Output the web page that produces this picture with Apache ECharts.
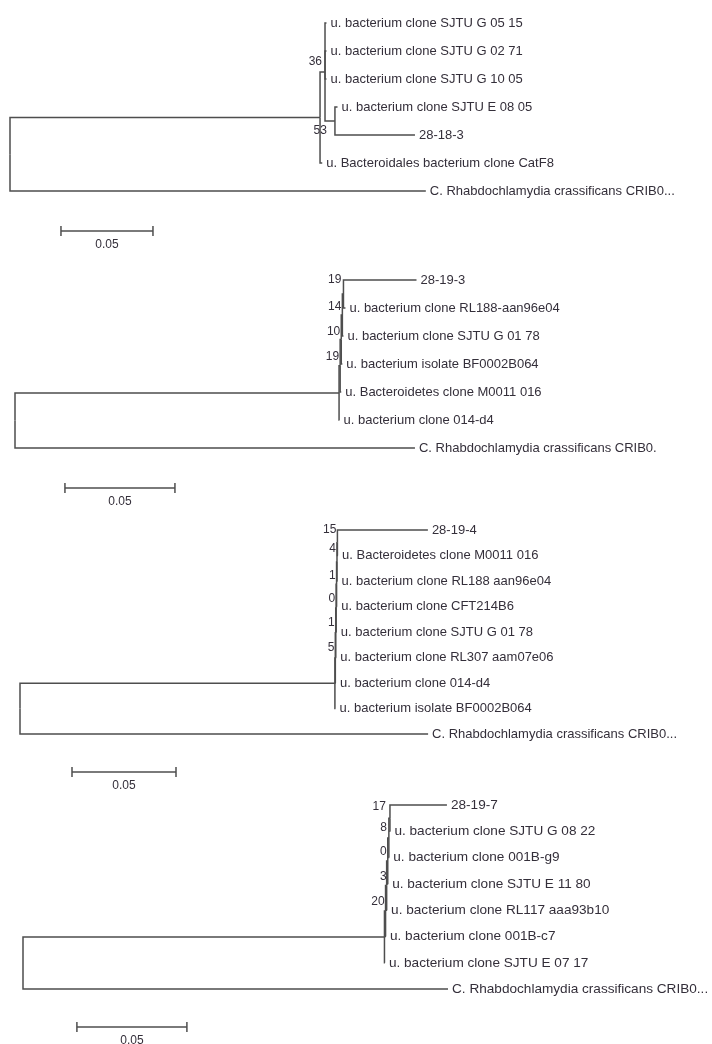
<!DOCTYPE html>
<html>
<head>
<meta charset="utf-8">
<script src="https://cdn.jsdelivr.net/npm/echarts@6.0.0/dist/echarts.min.js"></script>
<style>
html,body{margin:0;padding:0;background:#fff;}
#chart{width:712px;height:1044px;}
</style>
</head>
<body>
<div id="chart"></div>
<script>
// ================= DATA =================
// Each tree: node names (leaves carry a label), parent index, branch length (substitutions/site), bootstrap
const t1Names = ['', '', '', 'u. bacterium clone SJTU G 05 15', 'u. bacterium clone SJTU G 02 71', 'u. bacterium clone SJTU G 10 05', '', 'u. bacterium clone SJTU E 08 05', '28-18-3', 'u. Bacteroidales bacterium clone CatF8', 'C. Rhabdochlamydia crassificans CRIB0...'];
const t1Parent = [-1, 0, 1, 2, 2, 2, 2, 6, 6, 1, 0];
const t1Length = [0, 0.1685, 0.0027, 0.0008, 0.0008, 0.0008, 0.0054, 0.0014, 0.0435, 0.0012, 0.226];
const t1Boot = [null, null, 36, null, null, null, 53, null, null, null, null];

const t2Names = ['', '', '', '', '', '', '28-19-3', 'u. bacterium clone RL188-aan96e04', 'u. bacterium clone SJTU G 01 78', 'u. bacterium isolate BF0002B064', 'u. Bacteroidetes clone M0011 016', 'u. bacterium clone 014-d4', 'C. Rhabdochlamydia crassificans CRIB0.'];
const t2Parent = [-1, 0, 1, 2, 3, 4, 5, 5, 4, 3, 2, 1, 0];
const t2Length = [0, 0.1473, 0.0005, 0.0005, 0.0005, 0.0005, 0.0332, 0.0009, 0.0005, 0.0005, 0.0005, 0.0002, 0.1818];
const t2Boot = [null, null, 19, 10, 14, 19, null, null, null, null, null, null, null];

const t3Names = ['', '', '', '', '', '', '', '', '28-19-4', 'u. Bacteroidetes clone M0011 016', 'u. bacterium clone RL188 aan96e04', 'u. bacterium clone CFT214B6', 'u. bacterium clone SJTU G 01 78', 'u. bacterium clone RL307 aam07e06', 'u. bacterium clone 014-d4', 'u. bacterium isolate BF0002B064', 'C. Rhabdochlamydia crassificans CRIB0...'];
const t3Parent = [-1, 0, 1, 2, 3, 4, 5, 6, 7, 7, 6, 5, 4, 3, 2, 1, 0];
const t3Length = [0, 0.1514, 0.0002, 0.0002, 0.0002, 0.0002, 0.0002, 0.0002, 0.0435, 0.0003, 0.0003, 0.0003, 0.0003, 0.0003, 0.0003, 0.0003, 0.1962];
const t3Boot = [null, null, 5, 1, 0, 1, 4, 15, null, null, null, null, null, null, null, null, null];

const t4Names = ['', '', '', '', '', '', '', '28-19-7', 'u. bacterium clone SJTU G 08 22', 'u. bacterium clone 001B-g9', 'u. bacterium clone SJTU E 11 80', 'u. bacterium clone RL117 aaa93b10', 'u. bacterium clone 001B-c7', 'u. bacterium clone SJTU E 07 17', 'C. Rhabdochlamydia crassificans CRIB0...'];
const t4Parent = [-1, 0, 1, 2, 3, 4, 5, 6, 6, 5, 4, 3, 2, 1, 0];
const t4Length = [0, 0.1643, 0.0005, 0.0005, 0.0005, 0.0005, 0.0005, 0.0259, 0.0002, 0.0002, 0.0002, 0.0002, 0.0002, 0.0002, 0.1932];
const t4Boot = [null, null, 20, 3, 0, 8, 17, null, null, null, null, null, null, null, null];

const scaleBarValue = 0.05;
const scaleBarLabel = '0.05';

// ================= LAYOUT (positions / styles) =================
const panels = [
  {names: t1Names, parent: t1Parent, len: t1Length, boot: t1Boot,
   left: 10, top: 23, pxPerUnit: 1840, rowPx: 28, leafFont: 13,
   bootOff: {2: [-3, -10], 6: [-8, 10]}, bar: {start: 0.0277, row: 7.43}},
  {names: t2Names, parent: t2Parent, len: t2Length, boot: t2Boot,
   left: 15, top: 280, pxPerUnit: 2200, rowPx: 28, leafFont: 13,
   bootOff: {5: [-2, -14], 4: [-1, -8], 3: [-1, -8], 2: [-1, -9]}, bar: {start: 0.0227, row: 7.43}},
  {names: t3Names, parent: t3Parent, len: t3Length, boot: t3Boot,
   left: 20, top: 530, pxPerUnit: 2080, rowPx: 25.5, leafFont: 13,
   bootOff: {7: [-1, -13], 6: [-1, -13], 5: [-1, -9], 4: [-1, -9], 3: [-1, -10], 2: [-1, -10]}, bar: {start: 0.025, row: 9.49}},
  {names: t4Names, parent: t4Parent, len: t4Length, boot: t4Boot,
   left: 23, top: 805, pxPerUnit: 2200, rowPx: 26.3, leafFont: 13.6,
   bootOff: {6: [-4, -11], 5: [-2, -10], 4: [-1, -9], 3: [0, -9], 2: [-1, -9]}, bar: {start: 0.0245, row: 8.44}}
];
const X_MAX = 0.3;
const LINE = '#4e4e4e';
const TEXT = '#342f3a';
const FONT = '"Liberation Sans", Arial, sans-serif';

// ================= TREE LAYOUT =================
function layoutTree(names, parent, len) {
  const nodes = names.map((nm, i) => ({i, name: nm, parent: parent[i], len: len[i], children: [], x: 0, y: 0}));
  nodes.forEach(nd => { if (nd.parent >= 0) nodes[nd.parent].children.push(nd.i); });
  let leafIdx = 0;
  function walk(i, x) {
    const nd = nodes[i];
    nd.x = x;
    if (nd.children.length === 0) { nd.y = leafIdx++; return; }
    nd.children.forEach(c => walk(c, x + nodes[c].len));
    const ys = nd.children.map(c => nodes[c].y);
    nd.y = (ys[0] + ys[ys.length - 1]) / 2;
  }
  walk(0, 0);
  return {nodes, leafCount: leafIdx};
}

const grids = [], xAxes = [], yAxes = [], series = [];
panels.forEach((p, pi) => {
  const {nodes, leafCount} = layoutTree(p.names, p.parent, p.len);
  grids.push({left: p.left, top: p.top, width: X_MAX * p.pxPerUnit, height: (leafCount - 1) * p.rowPx, containLabel: false});
  xAxes.push({type: 'value', gridIndex: pi, min: 0, max: X_MAX, show: false});
  yAxes.push({type: 'value', gridIndex: pi, min: 0, max: leafCount - 1, inverse: true, show: false});

  // branches (elbow)
  const br = nodes.filter(nd => nd.parent >= 0).map(nd => [nodes[nd.parent].x, nodes[nd.parent].y, nd.x, nd.y]);
  series.push({
    type: 'custom', xAxisIndex: pi, yAxisIndex: pi, silent: true, clip: false, data: br,
    renderItem: function (params, api) {
      const a = api.coord([api.value(0), api.value(1)]);
      const b = api.coord([api.value(0), api.value(3)]);
      const c = api.coord([api.value(2), api.value(3)]);
      return {type: 'polyline', shape: {points: [a, b, c]}, style: {stroke: LINE, lineWidth: 1.5, fill: null}};
    }
  });

  // leaf labels
  const leaves = nodes.filter(nd => nd.children.length === 0);
  series.push({
    type: 'custom', xAxisIndex: pi, yAxisIndex: pi, silent: true, clip: false,
    data: leaves.map(nd => [nd.x, nd.y]),
    renderItem: function (params, api) {
      const c = api.coord([api.value(0), api.value(1)]);
      const txt = leaves[params.dataIndex].name;
      return {type: 'text', x: c[0] + 4, y: c[1],
        style: {text: txt, fill: TEXT, font: p.leafFont + 'px ' + FONT,
          align: 'left', verticalAlign: 'middle', textAlign: 'left', textVerticalAlign: 'middle'}};
    }
  });

  // bootstrap labels
  const bnodes = nodes.filter(nd => p.boot[nd.i] !== null && p.boot[nd.i] !== undefined);
  series.push({
    type: 'custom', xAxisIndex: pi, yAxisIndex: pi, silent: true, clip: false,
    data: bnodes.map(nd => [nd.x, nd.y, p.boot[nd.i]]),
    renderItem: function (params, api) {
      const nd = bnodes[params.dataIndex];
      const off = p.bootOff[nd.i] || [-1, -9];
      const c = api.coord([api.value(0), api.value(1)]);
      return {type: 'text', x: c[0] + off[0], y: c[1] + off[1],
        style: {text: String(api.value(2)), fill: TEXT, font: '12px ' + FONT,
          align: 'right', verticalAlign: 'middle', textAlign: 'right', textVerticalAlign: 'middle'}};
    }
  });

  // scale bar
  series.push({
    type: 'custom', xAxisIndex: pi, yAxisIndex: pi, silent: true, clip: false,
    data: [[p.bar.start, p.bar.row, p.bar.start + scaleBarValue]],
    renderItem: function (params, api) {
      const a = api.coord([api.value(0), api.value(1)]);
      const b = api.coord([api.value(2), api.value(1)]);
      const st = {stroke: LINE, lineWidth: 1.5};
      return {type: 'group', children: [
        {type: 'line', shape: {x1: a[0], y1: a[1], x2: b[0], y2: b[1]}, style: st},
        {type: 'line', shape: {x1: a[0], y1: a[1] - 5, x2: a[0], y2: a[1] + 5}, style: st},
        {type: 'line', shape: {x1: b[0], y1: b[1] - 5, x2: b[0], y2: b[1] + 5}, style: st},
        {type: 'text', x: (a[0] + b[0]) / 2, y: a[1] + 14,
          style: {text: scaleBarLabel, fill: TEXT, font: '12px ' + FONT,
            align: 'center', verticalAlign: 'middle', textAlign: 'center', textVerticalAlign: 'middle'}}
      ]};
    }
  });
});

const chart = echarts.init(document.getElementById('chart'), null, {renderer: 'canvas'});
chart.setOption({
  backgroundColor: '#ffffff',
  animation: false,
  grid: grids,
  xAxis: xAxes,
  yAxis: yAxes,
  series: series
});
</script>
</body>
</html>
